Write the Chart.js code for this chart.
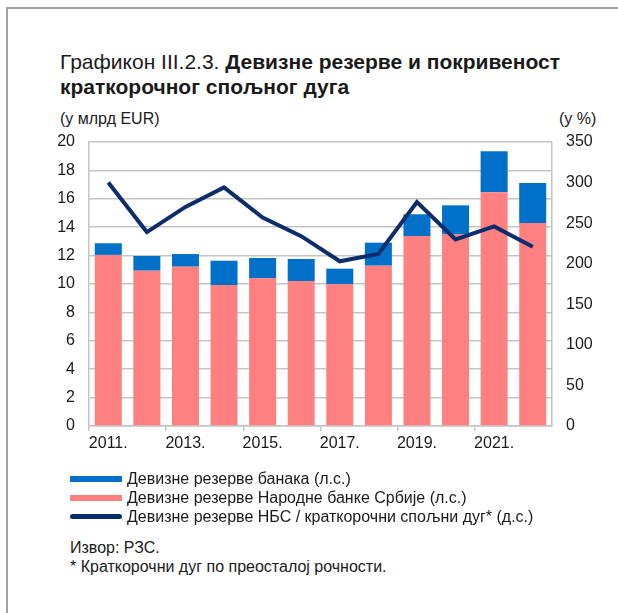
<!DOCTYPE html>
<html>
<head>
<meta charset="utf-8">
<script src="https://cdn.jsdelivr.net/npm/chart.js@4/dist/chart.umd.min.js"></script>
<style>
  body { margin: 0; background: #fff; font-family: "Liberation Sans", Arial, sans-serif; color: #1a1a1a; }
  #page { position: relative; width: 618px; height: 613px; overflow: hidden; }
  #frame { position: absolute; left: 6px; top: 7px; width: 800px; height: 800px; border-top: 2px solid #a0a0a0; border-left: 2px solid #a0a0a0; }
  #title { position: absolute; left: 60px; top: 49px; font-size: 21px; line-height: 25px; }
  .unit { position: absolute; top: 110px; font-size: 16px; }
  #chart-box { position: absolute; left: 0; top: 130px; width: 618px; height: 340px; }
  #legend { position: absolute; left: 70px; top: 469px; font-size: 16px; }
  .item { height: 19px; display: flex; align-items: center; }
  .swatch { width: 52px; margin-right: 5px; }
  .note { position: absolute; left: 70px; font-size: 16px; }
</style>
</head>
<body>
<div id="page">
  <div id="frame"></div>
  <div id="title">Графикон III.2.3. <b>Девизне резерве и покривеност<br>краткорочног спољног дуга</b></div>
  <div class="unit" style="left:60px">(у млрд EUR)</div>
  <div class="unit" style="left:559px">(у %)</div>
  <div id="chart-box"><canvas id="chart"></canvas></div>
  <div id="legend"></div>
  <div class="note" style="top:539px">Извор: РЗС.</div>
  <div class="note" style="top:558px">* Краткорочни дуг по преосталој рочности.</div>
</div>
<script>
// years on the x axis
const years = ["2011.", "2012.", "2013.", "2014.", "2015.", "2016.", "2017.", "2018.", "2019.", "2020.", "2021.", "2022."];

// billions of EUR (left axis)
const nbsReserves = [12.05, 10.94, 11.22, 9.93, 10.40, 10.21, 9.98, 11.29, 13.38, 13.50, 16.46, 14.30];
const bankReserves = [0.82, 1.03, 0.89, 1.71, 1.43, 1.55, 1.10, 1.62, 1.53, 2.04, 2.88, 2.81];

// percent (right axis)
const coverage = [300, 239, 270, 294, 257, 234, 203, 212, 276, 230, 246, 221];

const labels = {
  banks: "Девизне резерве банака (л.с.)",
  nbs: "Девизне резерве Народне банке Србије (л.с.)",
  coverage: "Девизне резерве НБС / краткорочни спољни дуг* (д.с.)"
};

const blue = "#0070c8";
const pink = "#ff8080";
const navy = "#0d2c6c";
const gridGray = "#c4c4c4";
const tickFont = { family: "Liberation Sans, Arial, sans-serif", size: 16 };

// fixed axis width, and no extra space above/below for the tick labels
function fitVertical(width) {
  return (s) => {
    s.width = width;
    s.paddingTop = 0;
    s.paddingBottom = 0;
  };
}

function initializeChart() {
  const ctx = document.getElementById("chart").getContext("2d");
  return new Chart(ctx, {
    data: {
      labels: years,
      datasets: [
        {
          type: "line",
          label: labels.coverage,
          data: coverage,
          yAxisID: "y1",
          borderColor: navy,
          borderWidth: 4,
          pointRadius: 0,
          tension: 0,
          order: 0,
        },
        {
          type: "bar",
          label: labels.nbs,
          data: nbsReserves,
          backgroundColor: pink,
          yAxisID: "y",
          barPercentage: 0.7,
          categoryPercentage: 1,
          order: 1,
        },
        {
          type: "bar",
          label: labels.banks,
          data: bankReserves,
          backgroundColor: blue,
          yAxisID: "y",
          barPercentage: 0.7,
          categoryPercentage: 1,
          order: 1,
        },
      ],
    },
    options: {
      responsive: true,
      maintainAspectRatio: false,
      animation: false,
      layout: { padding: { top: 12, left: 0, right: 0, bottom: 0 } },
      plugins: { legend: { display: false }, tooltip: { enabled: false } },
      scales: {
        x: {
          stacked: true,
          offset: true,
          grid: {
            offset: true,
            drawOnChartArea: false,
            tickLength: 5,
            color: (c) => (c.index % 2 === 0 ? gridGray : "rgba(0,0,0,0)"),
            lineWidth: 1.5,
          },
          border: { color: gridGray, width: 1.5 },
          ticks: {
            autoSkip: false,
            maxRotation: 0,
            padding: 3,
            color: "#1a1a1a",
            font: tickFont,
            callback: (v, i) => (i % 2 === 0 ? years[i] : ""),
          },
          afterFit: (s) => { s.height = 44; },
        },
        y: {
          stacked: true,
          position: "left",
          min: 0,
          max: 20,
          grid: { color: gridGray, lineWidth: 1.5, drawTicks: false },
          border: { color: gridGray, width: 1.5 },
          ticks: { stepSize: 2, padding: 14, color: "#1a1a1a", font: tickFont },
          afterFit: fitVertical(89),
        },
        y1: {
          position: "right",
          min: 0,
          max: 350,
          grid: { drawOnChartArea: false, drawTicks: false },
          border: { color: gridGray, width: 1.5 },
          ticks: { stepSize: 50, padding: 14, color: "#1a1a1a", font: tickFont },
          afterFit: fitVertical(66),
        },
      },
    },
  });
}

// legend drawn as html next to the chart
function buildLegend() {
  const items = [
    { text: labels.banks, style: `height:6px;background:${blue}` },
    { text: labels.nbs, style: `height:6px;background:${pink}` },
    { text: labels.coverage, style: `height:5px;background:${navy};border-radius:3px` },
  ];
  const box = document.getElementById("legend");
  items.forEach((it) => {
    const row = document.createElement("div");
    row.className = "item";
    row.innerHTML = `<span class="swatch" style="${it.style}"></span><span>${it.text}</span>`;
    box.appendChild(row);
  });
}

buildLegend();
initializeChart();
</script>
</body>
</html>
